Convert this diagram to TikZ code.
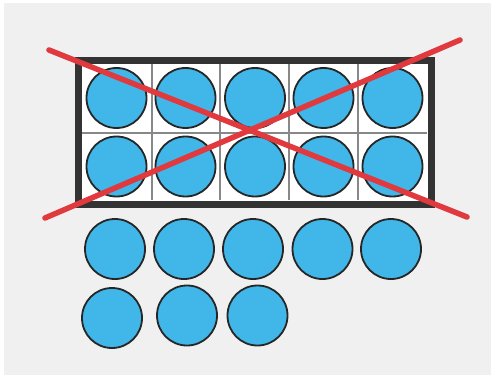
\documentclass[tikz,border=0pt]{standalone}
\definecolor{bgc}{HTML}{F0F0F0}
\definecolor{ballc}{HTML}{41B6E9}
\definecolor{redc}{HTML}{E0393E}
\definecolor{framec}{HTML}{333333}
\definecolor{gridc}{HTML}{888888}
\begin{document}
\begin{tikzpicture}[x=1pt,y=-1pt,
  ball/.style={circle,draw=black!85,line width=1.8pt,fill=ballc,minimum size=60pt,inner sep=0pt},
  cross/.style={draw=redc,line width=5.5pt,line cap=round},
  divider/.style={draw=gridc,line width=1.5pt}]
\useasboundingbox (0,0) rectangle (492,377);
\fill[bgc] (4,3) rectangle (491,375);
% ten frame
\fill[white] (78,60.5) rectangle (431,204);
\foreach \x in {152,220,289,358} \draw[divider] (\x,64) -- (\x,200);
\draw[divider] (82,133) -- (427,133);
\foreach \x [count=\i] in {116.5,185.5,255,323.5,392.5} {
  \node[ball] (t\i) at (\x,98) {};
  \node[ball] (b\i) at (\x,166.5) {};
}
\draw[draw=framec,line width=7pt] (78,60.5) rectangle (431,204);
% loose balls
\foreach \x [count=\i] in {115,184,253,322.5,391} \node[ball] (r\i) at (\x,249) {};
\node[ball] (s1) at (112,318) {};
\node[ball] (s2) at (187,315.5) {};
\node[ball] (s3) at (257.5,315.5) {};
% cross
\coordinate (c1) at (49,50);
\coordinate (c2) at (467,217);
\coordinate (c3) at (45,218);
\coordinate (c4) at (460,40);
\draw[cross] (c1) -- (c2);
\draw[cross] (c3) -- (c4);
\end{tikzpicture}
\end{document}
